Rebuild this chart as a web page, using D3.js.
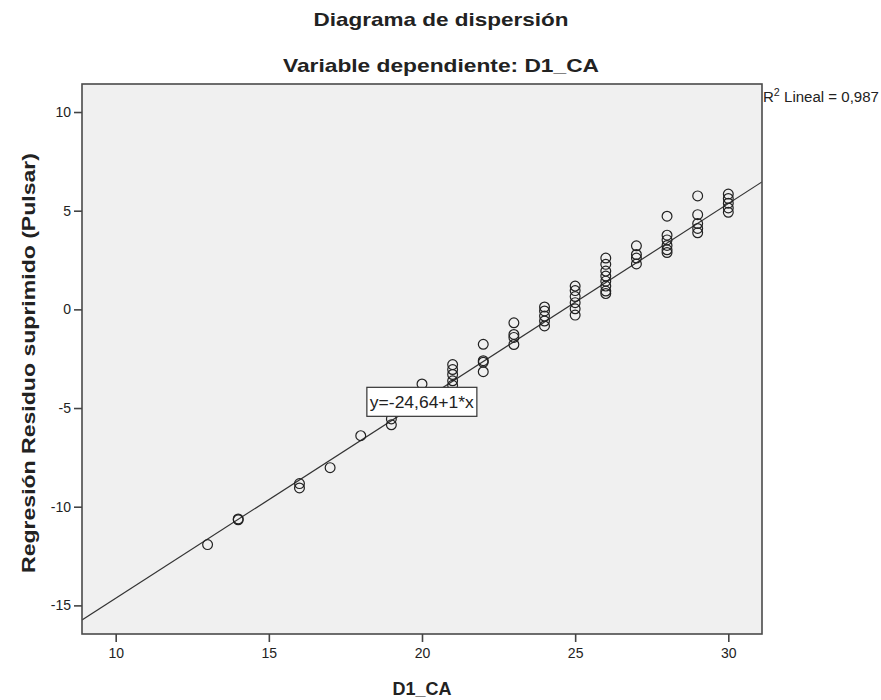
<!DOCTYPE html>
<html>
<head>
<meta charset="utf-8">
<script src="https://cdn.jsdelivr.net/npm/d3@7"></script>
<style>
  body { margin: 0; background: #fff; }
  svg text { font-family: "Liberation Sans", Arial, sans-serif; fill: #222; }
</style>
</head>
<body>
<svg id="chart" width="881" height="700"></svg>
<script>
// D1_CA values (x) and their suppressed regression residuals (y), one array per D1_CA level
const d1Levels = [13, 14, 16, 17, 18, 19, 20, 21, 22, 23, 24, 25, 26, 27, 28, 29, 30];
const residuals = [
  [-11.92],
  [-10.62, -10.66],
  [-8.83, -9.05],
  [-8.02],
  [-6.4],
  [-5.55, -5.85],
  [-3.78],
  [-2.8, -3.05, -3.3, -3.62, -3.85],
  [-1.77, -2.6, -2.68, -3.16],
  [-0.68, -1.27, -1.42, -1.78],
  [0.12, -0.08, -0.34, -0.59, -0.84],
  [1.18, 0.95, 0.65, 0.34, 0.03, -0.29],
  [2.6, 2.28, 1.94, 1.69, 1.43, 1.18, 0.93, 0.8],
  [3.22, 2.78, 2.6, 2.3],
  [4.72, 3.76, 3.52, 3.24, 3.02, 2.88],
  [5.75, 4.8, 4.35, 4.1, 3.88],
  [5.84, 5.62, 5.38, 5.14, 4.92]
];
const xTicks = [10, 15, 20, 25, 30];
const yTicks = [10, 5, 0, -5, -10, -15];
const fitIntercept = -24.64;
const fitSlope = 1;
const fitLabel = "y=-24,64+1*x";
const r2Value = "0,987";
const titleText = "Diagrama de dispersión";
const subtitleText = "Variable dependiente: D1_CA";
const xTitle = "D1_CA";
const yTitle = "Regresión Residuo suprimido (Pulsar)";

const points = [];
d1Levels.forEach((xv, i) => residuals[i].forEach(yv => points.push({x: xv, y: yv})));

const svg = d3.select("#chart");
const plot = {left: 82, right: 762, top: 84, bottom: 634};

const x = d3.scaleLinear().domain([8.9, 31.1]).range([plot.left, plot.right]);
const y = d3.scaleLinear().domain([-16.45, 11.42]).range([plot.bottom, plot.top]);

// plot background
svg.append("rect")
  .attr("x", plot.left).attr("y", plot.top)
  .attr("width", plot.right - plot.left).attr("height", plot.bottom - plot.top)
  .attr("fill", "#f0f0f0");

// clip for the fit line
svg.append("clipPath").attr("id", "plotClip")
  .append("rect")
  .attr("x", plot.left).attr("y", plot.top)
  .attr("width", plot.right - plot.left).attr("height", plot.bottom - plot.top);

// fit line
const xd = x.domain();
svg.append("line")
  .attr("clip-path", "url(#plotClip)")
  .attr("x1", x(xd[0])).attr("y1", y(fitIntercept + fitSlope * xd[0]))
  .attr("x2", x(xd[1])).attr("y2", y(fitIntercept + fitSlope * xd[1]))
  .attr("stroke", "#333").attr("stroke-width", 1.2);

// points
svg.append("g").selectAll("circle").data(points).join("circle")
  .attr("cx", d => x(d.x)).attr("cy", d => y(d.y))
  .attr("r", 4.9)
  .attr("fill", "none")
  .attr("stroke", "#222")
  .attr("stroke-width", 1.2);

// frame
svg.append("rect")
  .attr("x", plot.left).attr("y", plot.top)
  .attr("width", plot.right - plot.left).attr("height", plot.bottom - plot.top)
  .attr("fill", "none").attr("stroke", "#4a4a4a").attr("stroke-width", 1.6);

// axes (plain hyphen for negative numbers)
const fmt = d => String(d);
const xAxis = svg.append("g")
  .attr("transform", `translate(0,${plot.bottom})`)
  .call(d3.axisBottom(x).tickValues(xTicks).tickSize(8).tickPadding(6).tickFormat(fmt));
const yAxis = svg.append("g")
  .attr("transform", `translate(${plot.left},0)`)
  .call(d3.axisLeft(y).tickValues(yTicks).tickSize(8).tickPadding(3).tickFormat(fmt));
[xAxis, yAxis].forEach(g => {
  g.select(".domain").remove();
  g.selectAll(".tick line").attr("stroke", "#444").attr("stroke-width", 1.6);
  g.selectAll(".tick text").attr("font-size", 14).style("fill", "#222");
});

// equation label box
const eqX = x(18.2), eqY = y(-3.95);
const eqG = svg.append("g");
eqG.append("rect")
  .attr("x", eqX).attr("y", eqY)
  .attr("width", 110).attr("height", 29)
  .attr("fill", "#fff").attr("stroke", "#333").attr("stroke-width", 1.2);
eqG.append("text")
  .attr("x", eqX + 3).attr("y", eqY + 21)
  .attr("font-size", 17)
  .attr("textLength", 104).attr("lengthAdjust", "spacingAndGlyphs")
  .text(fitLabel);

// R squared label
const r2 = svg.append("text").attr("x", plot.right + 1).attr("y", 102).attr("font-size", 14)
  .attr("textLength", 116).attr("lengthAdjust", "spacingAndGlyphs");
r2.append("tspan").text("R");
r2.append("tspan").attr("font-size", 10).attr("dy", -6).text("2");
r2.append("tspan").attr("dy", 6).text(" Lineal = " + r2Value);

// titles
svg.append("text").attr("x", 441).attr("y", 26).attr("text-anchor", "middle")
  .attr("font-size", 19).attr("font-weight", "bold")
  .attr("textLength", 255).attr("lengthAdjust", "spacingAndGlyphs").text(titleText);
svg.append("text").attr("x", 441).attr("y", 72).attr("text-anchor", "middle")
  .attr("font-size", 19).attr("font-weight", "bold")
  .attr("textLength", 316).attr("lengthAdjust", "spacingAndGlyphs").text(subtitleText);
svg.append("text").attr("x", x(20)).attr("y", 695).attr("text-anchor", "middle")
  .attr("font-size", 18).attr("font-weight", "bold").text(xTitle);
svg.append("text")
  .attr("transform", `translate(35,${(plot.top + plot.bottom) / 2 + 4}) rotate(-90)`)
  .attr("text-anchor", "middle")
  .attr("font-size", 19).attr("font-weight", "bold")
  .attr("textLength", 420).attr("lengthAdjust", "spacingAndGlyphs").text(yTitle);
</script>
</body>
</html>
